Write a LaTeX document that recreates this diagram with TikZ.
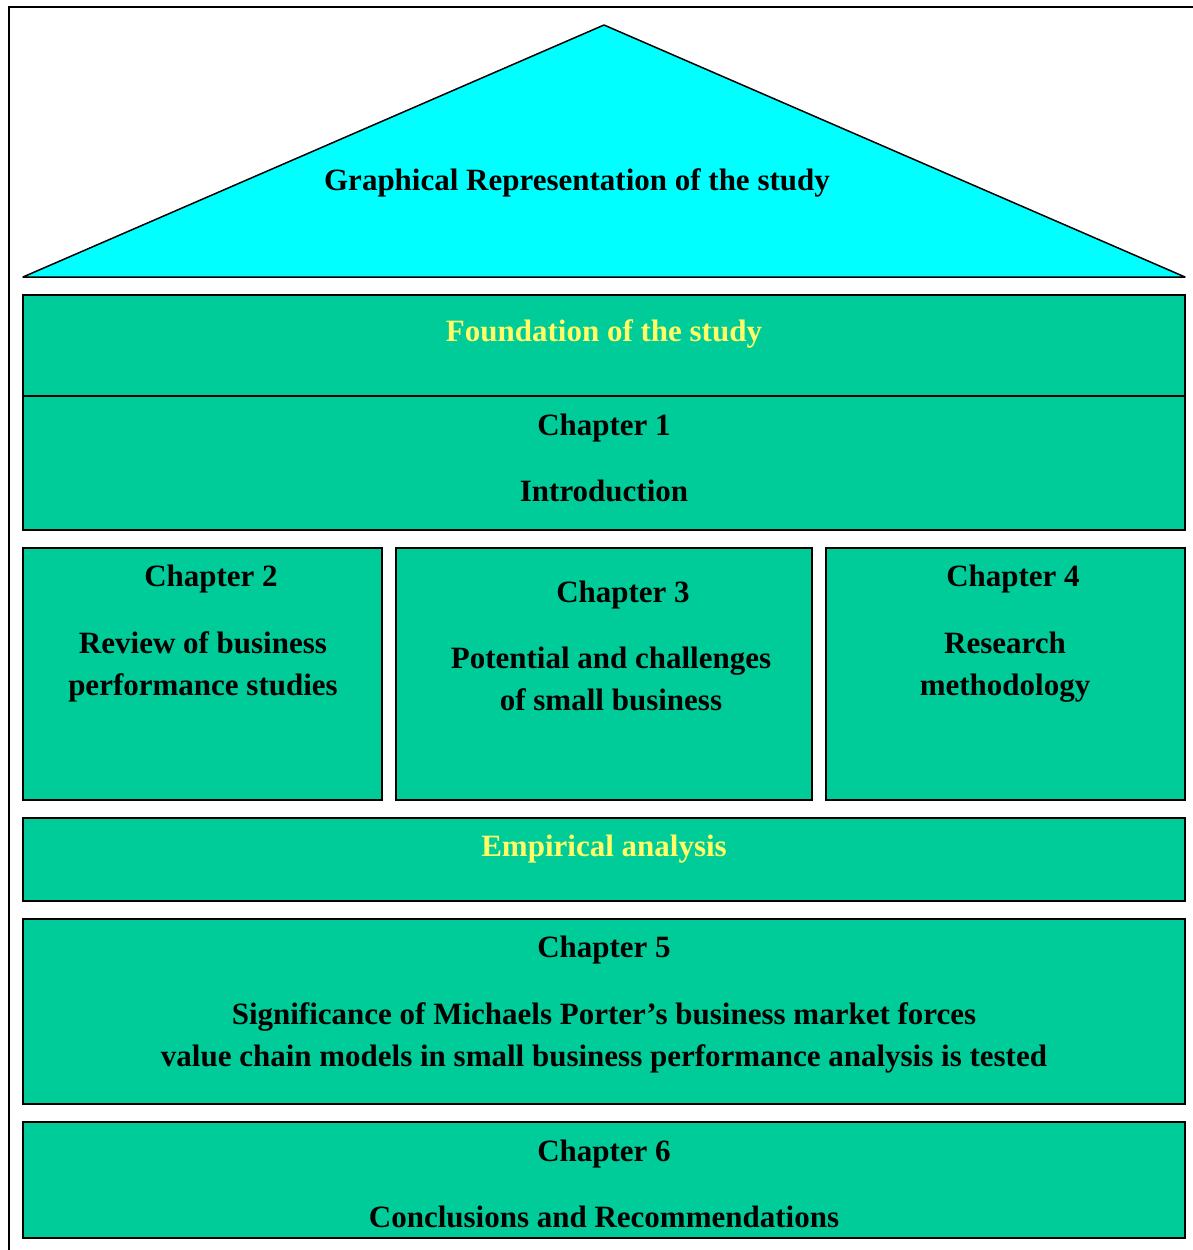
\documentclass[tikz,border=0pt]{standalone}
\usepackage{fontspec}
\setmainfont{Liberation Serif}
\usetikzlibrary{positioning}
\definecolor{roof}{RGB}{0,255,255}
\definecolor{wall}{RGB}{0,204,153}
\definecolor{hilite}{RGB}{255,255,102}
\tikzset{block/.style={draw=black, fill=wall, line width=1.5pt, inner sep=0pt}}
\tikzset{lbl/.style={font=\fontsize{31}{42}\selectfont\bfseries, align=center, inner sep=0pt, anchor=base}}
\tikzset{hlbl/.style={lbl, text=hilite}}

\begin{document}
\begin{tikzpicture}[x=1pt, y=-1pt]
\useasboundingbox (0,0) rectangle (1193,1250);
\draw[line width=1.8pt] (9,1260)--(9,7)--(1200,7);
% roof
\coordinate (apex) at (604,25);
\coordinate (eaveL) at (23,277);
\coordinate (eaveR) at (1185,277);
\filldraw[fill=roof, draw=black, line width=1.5pt, line join=round] (eaveL)--(apex)--(eaveR)--cycle;
\node (title) at (577,190) [lbl] {Graphical Representation of the study};
% foundation
\node (found) [block, minimum width=1162pt, minimum height=101pt] at (604,345.5) {};
\node (ch1) [block, minimum width=1162pt, minimum height=134pt] at (604,463) {};
\node (foundtxt) at (604,341) [hlbl] {Foundation of the study};
\node (ch1txt) at (604,501) [lbl] {Chapter 1\\[24pt]Introduction};
% pillars
\node (ch2) [block, minimum width=359pt, minimum height=252pt] at (202.5,674) {};
\node (ch3) [block, minimum width=416pt, minimum height=252pt] at (604,674) {};
\node (ch4) [block, minimum width=359pt, minimum height=252pt] at (1005.5,674) {};
\node (ch2t) at (211,586) [lbl] {Chapter 2};
\node (ch2txt) at (203,695) [lbl] {Review of business\\performance studies};
\node (ch3t) at (623,602) [lbl] {Chapter 3};
\node (ch3txt) at (611,710) [lbl] {Potential and challenges\\of small business};
\node (ch4t) at (1013,586) [lbl] {Chapter 4};
\node (ch4txt) at (1005,695) [lbl] {Research\\methodology};
% empirical part
\node (emp) [block, minimum width=1162pt, minimum height=83pt] at (604,859.5) {};
\node (emptxt) at (604,856) [hlbl] {Empirical analysis};
\node (ch5) [block, minimum width=1162pt, minimum height=185pt] at (604,1011.5) {};
\node (ch5t) at (604,957) [lbl] {Chapter 5};
\node (ch5txt) at (604,1066) [lbl] {Significance of Michaels Porter’s business market forces\\value chain models in small business performance analysis is tested};
\node (ch6) [block, minimum width=1162pt, minimum height=116pt] at (604,1180) {};
\node (ch6txt) at (604,1227) [lbl] {Chapter 6\\[24pt]Conclusions and Recommendations};
\end{tikzpicture}
\end{document}
